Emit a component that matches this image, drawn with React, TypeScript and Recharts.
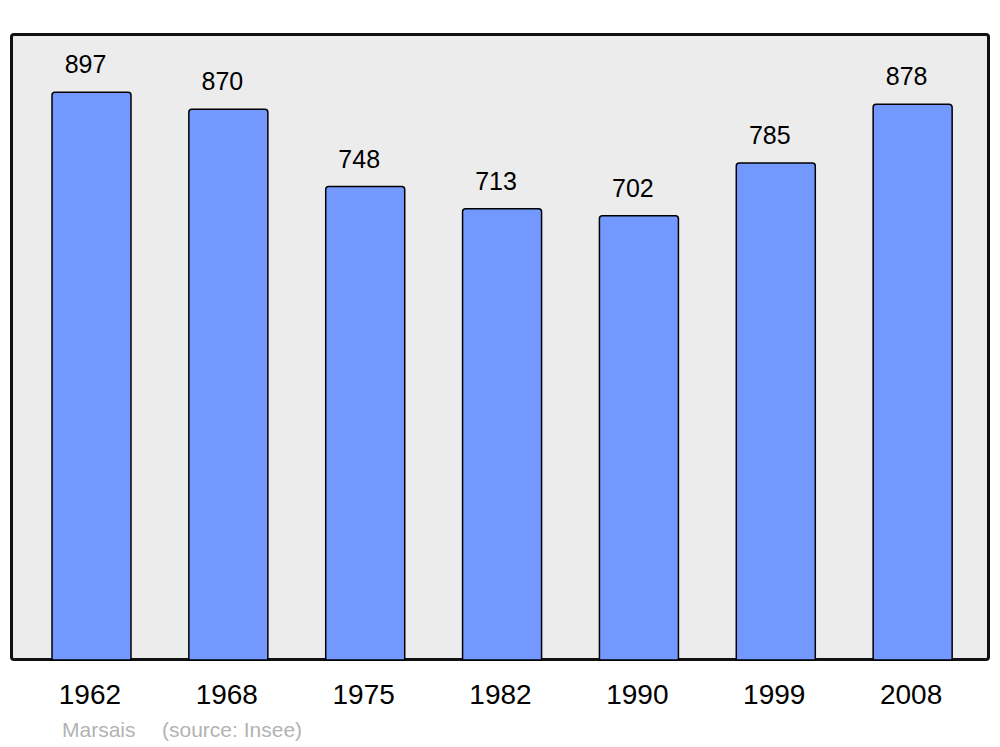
import React from 'react';
import { BarChart, Bar, XAxis, YAxis, LabelList } from 'recharts';

const years = ['1962', '1968', '1975', '1982', '1990', '1999', '2008'];
const population = [897, 870, 748, 713, 702, 785, 878];
const yMax = 989;

const data = years.map((y, i) => ({ year: y, pop: population[i] }));

const FONT = "'Liberation Sans', Arial, sans-serif";

const ValueLabel = (props: any) => {
  const { x, y, width, value } = props;
  return (
    <text
      x={Number(x) + Number(width) / 2 - 6}
      y={Number(y) - 19}
      textAnchor="middle"
      fontSize={25}
      fontFamily={FONT}
      fill="#000"
    >
      {value}
    </text>
  );
};

const YearTick = (props: any) => {
  const { x, payload } = props;
  return (
    <text
      x={Number(x) - 1.5}
      y={704}
      textAnchor="middle"
      fontSize={28}
      fontFamily={FONT}
      fill="#000"
    >
      {payload.value}
    </text>
  );
};

export default function App() {
  const srcStyle: React.CSSProperties = {
    position: 'absolute',
    top: 718,
    fontFamily: FONT,
    fontSize: 21,
    color: '#b3b3b3',
    whiteSpace: 'pre',
    lineHeight: '24px',
  };
  return (
    <div style={{ position: 'absolute', left: 0, top: 0, width: 1000, height: 747, background: '#fff', overflow: 'hidden' }}>
      <div
        style={{
          position: 'absolute',
          left: 10,
          top: 33,
          width: 980,
          height: 628,
          background: '#ececec',
          border: '3px solid #111',
          borderRadius: 4,
          boxSizing: 'border-box',
        }}
      />
      <div style={{ position: 'absolute', left: 0, top: 0 }}>
        <BarChart
          width={1000}
          height={747}
          data={data}
          margin={{ top: 34, right: 19, bottom: 0, left: 23 }}
        >
          <XAxis
            dataKey="year"
            axisLine={false}
            tickLine={false}
            tick={<YearTick />}
            interval={0}
            height={87}
          />
          <YAxis hide domain={[0, yMax]} />
          <Bar
            dataKey="pop"
            fill="#7398ff"
            stroke="#000"
            strokeWidth={1.5}
            barSize={79}
            radius={[3, 3, 0, 0]}
            isAnimationActive={false}
          >
            <LabelList dataKey="pop" content={<ValueLabel />} />
          </Bar>
        </BarChart>
      </div>
      <div style={{ ...srcStyle, left: 62 }}>Marsais</div>
      <div style={{ ...srcStyle, left: 162 }}>(source: Insee)</div>
    </div>
  );
}
